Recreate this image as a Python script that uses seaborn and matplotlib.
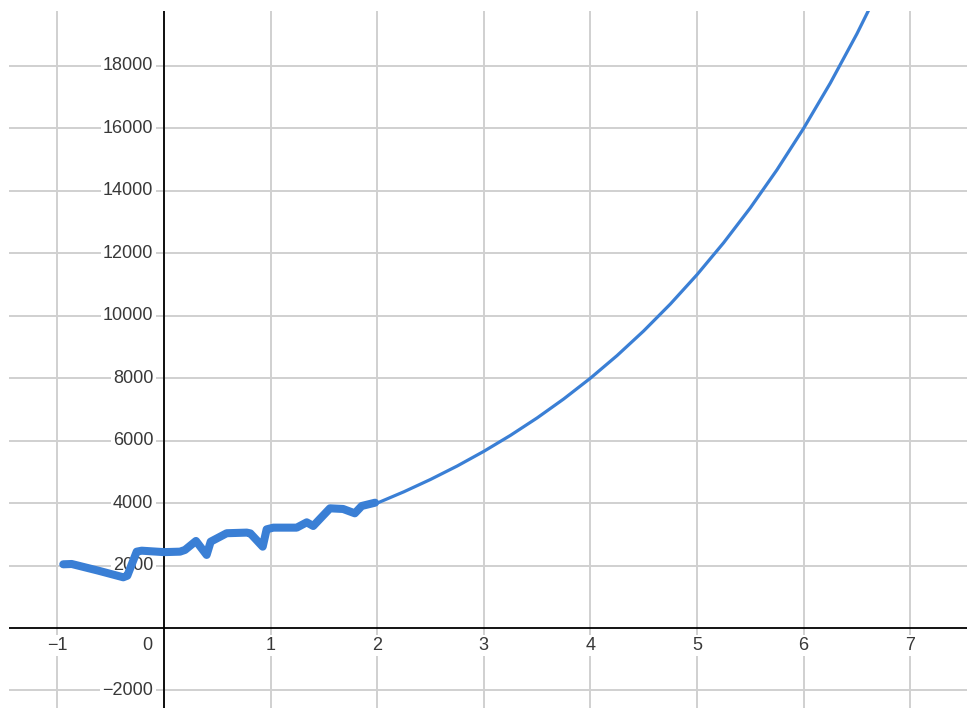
import numpy as np
import pandas as pd
import matplotlib
matplotlib.use("Agg")
import matplotlib.pyplot as plt
import seaborn as sns

# noisy measured part (thick line)
data_x = [-0.945, -0.866, -0.62, -0.382, -0.344, -0.256, -0.209, 0.0, 0.15, 0.197, 0.30,
          0.40, 0.438, 0.588, 0.776, 0.81, 0.926, 0.963, 1.026, 1.245, 1.339, 1.40,
          1.557, 1.68, 1.79, 1.855, 1.98]
data_y = [2040, 2050, 1840, 1624, 1675, 2445, 2476, 2430, 2445, 2500, 2787,
          2340, 2765, 3035, 3055, 3030, 2605, 3160, 3214, 3214, 3384, 3267,
          3833, 3812, 3673, 3908, 4013]

# smooth continuation (thin line)
fit_x = [2.0, 2.25, 2.5, 2.75, 3.0, 3.25, 3.5, 3.75, 4.0, 4.25, 4.5, 4.75,
         5.0, 5.25, 5.5, 5.75, 6.0, 6.25, 6.5, 6.75]
fit_y = [4000, 4362, 4757, 5187, 5657, 6169, 6727, 7336, 8000, 8724, 9514, 10375,
         11314, 12338, 13454, 14672, 16000, 17448, 19027, 20749]

x_ticks = [-1, 0, 1, 2, 3, 4, 5, 6, 7]
y_ticks = [-2000, 2000, 4000, 6000, 8000, 10000, 12000, 14000, 16000, 18000]

sns.set_style("white")
plt.rcParams['font.family'] = ['Liberation Sans', 'DejaVu Sans']

blue = '#3a7fd5'
grid_c = '#d0d0d0'
label_c = '#383838'

fig = plt.figure(figsize=(9.67, 7.08), dpi=100)
ax = fig.add_axes([9 / 967, 0, 958 / 967, 697 / 708])

xmin, xmax = -1.454, 7.533
ymin, ymax = -2562, 19760

# grid
for gx in x_ticks:
    ax.axvline(gx, color=grid_c, lw=1.4, zorder=0)
for gy in y_ticks:
    ax.axhline(gy, color=grid_c, lw=1.4, zorder=0)
ax.axvline(0, color='black', lw=1.3, zorder=1)
ax.axhline(0, color='black', lw=1.3, zorder=1)

df_data = pd.DataFrame({'x': data_x, 'y': data_y})
df_fit = pd.DataFrame({'x': fit_x, 'y': fit_y})
sns.lineplot(data=df_fit, x='x', y='y', ax=ax, color=blue, lw=2.3,
             sort=False, estimator=None, zorder=3)
sns.lineplot(data=df_data, x='x', y='y', ax=ax, color=blue, lw=5.8,
             sort=False, estimator=None, zorder=4,
             solid_capstyle='round', solid_joinstyle='round')

# tick labels drawn as text with white boxes like the graphing tool
bbox = dict(facecolor='white', edgecolor='none', pad=1.5)
for gx in x_ticks:
    if gx == 0:
        ax.text(-0.16, -550, '0', ha='center', va='center', fontsize=13,
                color=label_c, bbox=bbox, zorder=2)
    else:
        lab = str(gx).replace('-', '\u2212')
        ax.text(gx, -550, lab, ha='center', va='center', fontsize=13,
                color=label_c, bbox=bbox, zorder=2)
for gy in y_ticks:
    lab = str(gy).replace('-', '\u2212')
    ax.text(-0.1, gy, lab, ha='right', va='center', fontsize=13,
            color=label_c, bbox=bbox, zorder=2)

ax.set_xlim(xmin, xmax)
ax.set_ylim(ymin, ymax)
ax.set_xlabel('')
ax.set_ylabel('')
ax.set_xticks([])
ax.set_yticks([])
for s in ax.spines.values():
    s.set_visible(False)

fig.savefig('out.png', dpi=100)
